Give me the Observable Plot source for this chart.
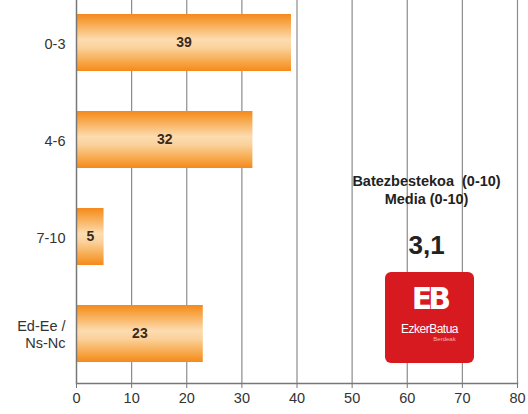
<!DOCTYPE html>
<html>
<head>
<meta charset="utf-8">
<script src="https://cdn.jsdelivr.net/npm/d3@7"></script>
<script src="https://cdn.jsdelivr.net/npm/@observablehq/plot@0.6"></script>
<style>
  body { margin: 0; background: #fff; }
  #wrap { position: relative; width: 528px; height: 414px; font-family: "Liberation Sans", Arial, sans-serif; }
  #logo { position: absolute; left: 385px; top: 272px; width: 89px; height: 91px; background: #d71920; border-radius: 6px; color: #fff; text-align: center; }
  #logo .eb { font-size: 30px; font-weight: bold; line-height: 30px; margin-top: 12px; letter-spacing: -4px; font-family: "DejaVu Sans", sans-serif; }
  #logo .name { font-size: 12px; margin-top: 8px; letter-spacing: -0.5px; }
  #logo .sub { font-size: 6px; margin-left: 30px; color: #f6b0b0; }
</style>
</head>
<body>
<div id="wrap"></div>
<script>
const categories = ["0-3", "4-6", "7-10", "Ed-Ee /\nNs-Nc"];
const values = [39, 32, 5, 23];
const xTicks = [0, 10, 20, 30, 40, 50, 60, 70, 80];
const noteLine1 = "Batezbestekoa  (0-10)";
const noteLine2 = "Media (0-10)";
const meanValue = "3,1";

const data = categories.map((c, i) => ({cat: c, v: values[i]}));
const font = "'Liberation Sans', Arial, sans-serif";

const chart = Plot.plot({
  width: 528,
  height: 414,
  marginLeft: 76,
  marginRight: 11,
  marginTop: 0,
  marginBottom: 31,
  style: {fontFamily: font, fontSize: "14px", color: "#333", background: "#fff"},
  x: {domain: [0, 80], ticks: xTicks, label: null},
  y: {domain: categories, range: [-7, 383], paddingInner: 0.415, paddingOuter: 0.2075, label: null},
  marks: [
    Plot.ruleX(xTicks.slice(1), {stroke: "#8c8c8c", strokeWidth: 1.2}),
    Plot.barX(data, {y: "cat", x: "v", fill: "url(#barGrad)"}),
    Plot.text(data, {y: "cat", x: d => d.v / 2, text: d => String(d.v), fontWeight: "bold", fontSize: 14, fill: "#3a2a1a"}),
    Plot.ruleX([0], {stroke: "#777", strokeWidth: 1.5}),
    Plot.frame({anchor: "bottom", stroke: "#777", strokeWidth: 1.5}),
    Plot.axisX({ticks: xTicks, tickSize: 5, tickPadding: 4, stroke: "#777", fontSize: 14.5, fill: "#333"}),
    Plot.axisY({tickSize: 0, tickPadding: 11, fontSize: 14.5, fill: "#333", lineHeight: 1.2}),
    Plot.text([noteLine1], {x: 63.5, frameAnchor: "top", dy: 175, text: d => d, fontWeight: "bold", fontSize: 14.5, fill: "#222"}),
    Plot.text([noteLine2], {x: 63.5, frameAnchor: "top", dy: 193, text: d => d, fontWeight: "bold", fontSize: 14.5, fill: "#222"}),
    Plot.text([meanValue], {x: 63.5, frameAnchor: "top", dy: 235, text: d => d, fontWeight: "bold", fontSize: 26, fill: "#222"})
  ]
});

const svg = d3.select(chart);
svg.insert("defs", ":first-child").html(`
  <linearGradient id="barGrad" x1="0" y1="0" x2="0" y2="1">
    <stop offset="0%" stop-color="#f5891c"/>
    <stop offset="12%" stop-color="#f7a03c"/>
    <stop offset="45%" stop-color="#fcdcb0"/>
    <stop offset="60%" stop-color="#fbd09a"/>
    <stop offset="88%" stop-color="#f7a03c"/>
    <stop offset="100%" stop-color="#f5891c"/>
  </linearGradient>`);

document.getElementById("wrap").appendChild(chart);
const logo = document.createElement("div");
logo.id = "logo";
logo.innerHTML = '<div class="eb">EB</div><div class="name">EzkerBatua</div><div class="sub">Berdeak</div>';
document.getElementById("wrap").appendChild(logo);
</script>
</body>
</html>
